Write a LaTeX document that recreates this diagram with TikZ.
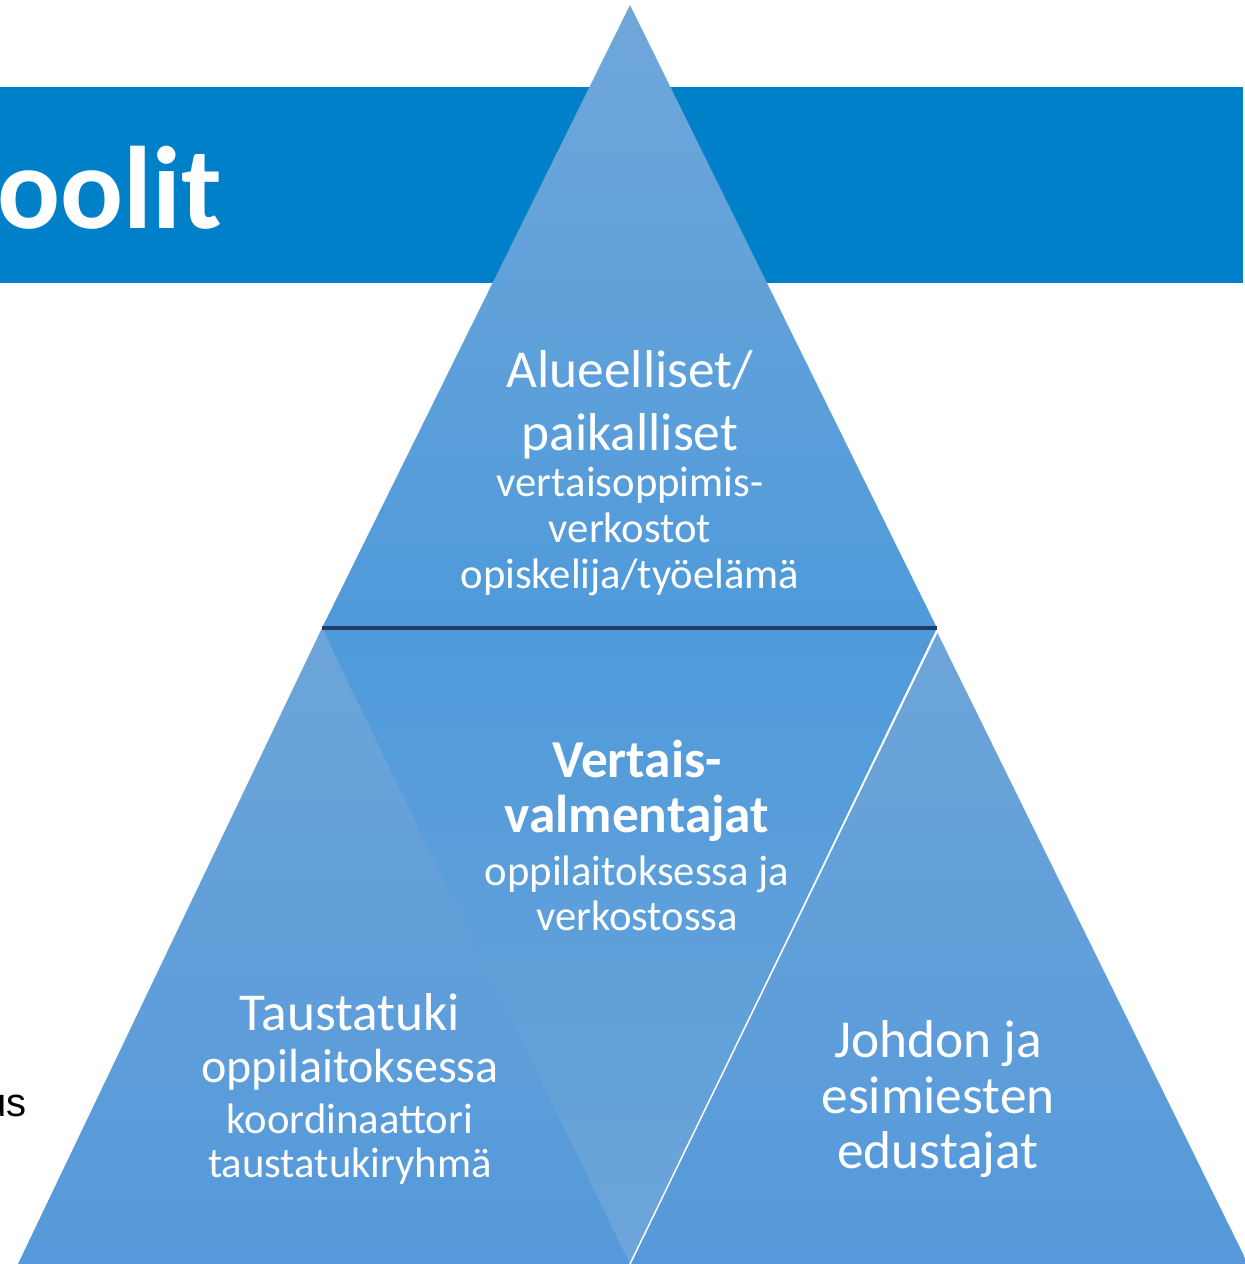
\documentclass[tikz,border=0pt]{standalone}
\usepackage{fontspec}
\setmainfont{Carlito}
\newfontfamily\arialfont{Liberation Sans}
\definecolor{banner}{HTML}{0080C8}
\definecolor{lightblue}{HTML}{70A7DA}
\definecolor{midblue}{HTML}{4F9ADA}
\definecolor{lowblue}{HTML}{5599DA}
\definecolor{midlight}{HTML}{6DA5D9}
\definecolor{darkline}{HTML}{1F3E66}
\tikzset{
  lbl/.style={text=white, inner sep=0pt, anchor=base},
  bigtxt/.style={lbl, font=\fontsize{40}{48}\selectfont},
  midtxt/.style={lbl, font=\fontsize{36}{43}\selectfont},
  smalltxt/.style={lbl, font=\fontsize{32}{38}\selectfont},
  boldtxt/.style={lbl, font=\fontsize{40}{48}\selectfont\bfseries},
}
\begin{document}
\begin{tikzpicture}[x=0.75pt, y=-0.75pt]
\clip (0,0) rectangle (1245,1264);
\fill[white] (0,0) rectangle (1245,1264);
% banner
\fill[banner] (0,87) rectangle (1243,283);
\node[anchor=base east, inner sep=0pt, text=white, font=\fontsize{88}{100}\selectfont\bfseries] (title) at (222,228) {oolit};
% left cut text
\node[anchor=base east, inner sep=0pt, font=\arialfont\fontsize{30}{36}\selectfont] (us) at (27,1116) {us};
% top triangle
\coordinate (tA) at (630,5);
\coordinate (tL) at (322,628);
\coordinate (tR) at (937,628);
\shade[top color=lightblue, bottom color=midblue] (tA) -- (tR) -- (tL) -- cycle;
% left triangle (drawn under the middle one)
\coordinate (lA) at (322,628);
\coordinate (lL) at (18,1264);
\coordinate (lR) at (646,1264);
\shade[top color=midlight, bottom color=lowblue] (lA) -- (lR) -- (lL) -- cycle;
% middle inverted triangle
\coordinate (mB) at (630,1264);
\shade[top color=midblue, bottom color=midlight] (tL) -- (tR) -- (mB) -- cycle;
% right triangle
\coordinate (rA) at (937,632);
\coordinate (rR) at (1248,1264);
\shade[top color=midlight, bottom color=lowblue] (rA) -- (rR) -- (mB) -- cycle;
\draw[white, line width=1.1pt] (rA) -- (mB);
% dark separator
\draw[darkline, line width=2.6pt] (tL) -- (tR);
% top texts
\node[bigtxt] (t1) at (630,387) {Alueelliset/};
\node[bigtxt] (t2) at (630,450) {paikalliset};
\node[smalltxt] (t3) at (630,496) {vertaisoppimis-};
\node[smalltxt] (t4) at (630,542) {verkostot};
\node[smalltxt] (t5) at (630,588) {opiskelija/työelämä};
% middle texts
\node[boldtxt] (m1) at (637,777) {Vertais-};
\node[boldtxt] (m2) at (637,832) {valmentajat};
\node[smalltxt] (m3) at (637,885) {oppilaitoksessa ja};
\node[smalltxt] (m4) at (637,930) {verkostossa};
% left texts
\node[bigtxt] (l1) at (350,1030) {Taustatuki};
\node[midtxt] (l2) at (350,1082) {oppilaitoksessa};
\node[smalltxt] (l3) at (350,1133) {koordinaattori};
\node[smalltxt] (l4) at (350,1177) {taustatukiryhmä};
% right texts
\node[bigtxt] (r1) at (938,1057) {Johdon ja};
\node[bigtxt] (r2) at (938,1113) {esimiesten};
\node[bigtxt] (r3) at (938,1168) {edustajat};
\end{tikzpicture}
\end{document}
